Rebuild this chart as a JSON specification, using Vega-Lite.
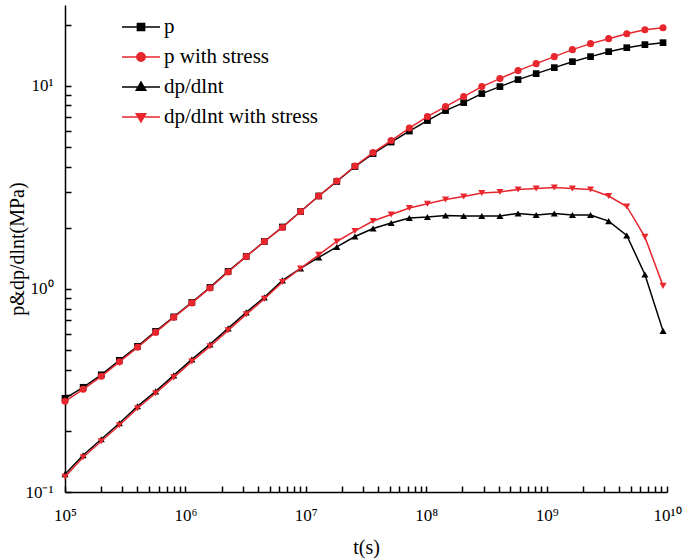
{
"$schema": "https://vega.github.io/schema/vega-lite/v6.json",
"width": 602, "height": 487,
"autosize": "none",
"padding": {"left": 65, "top": 5, "right": 18, "bottom": 68},
"config": {"view": {"stroke": null}, "font": "Liberation Serif",
  "legend": {"labelFont": "Liberation Serif", "labelFontSize": 21, "labelColor": "#000"},
  "axis": {"grid": false, "domainColor": "#000", "tickColor": "#000", "domainWidth": 1.5, "tickWidth": 1.5, "labelColor": "#000", "titleColor": "#000", "labelFont": "Liberation Serif", "titleFont": "Liberation Serif", "titleFontWeight": "normal", "labelFontSize": 17, "titleFontSize": 20}},
"data": {"values": [
{"t":100000,"v":0.2893,"s":"p"},{"t":141421,"v":0.3278,"s":"p"},{"t":200000,"v":0.3776,"s":"p"},{"t":282843,"v":0.4449,"s":"p"},{"t":400000,"v":0.5215,"s":"p"},{"t":565685,"v":0.6178,"s":"p"},{"t":800000,"v":0.7284,"s":"p"},{"t":1131371,"v":0.8582,"s":"p"},{"t":1600000,"v":1.017,"s":"p"},{"t":2262742,"v":1.219,"s":"p"},{"t":3200000,"v":1.445,"s":"p"},{"t":4525483,"v":1.712,"s":"p"},{"t":6400000,"v":2.018,"s":"p"},{"t":9050967,"v":2.406,"s":"p"},{"t":12800000,"v":2.868,"s":"p"},{"t":18101934,"v":3.38,"s":"p"},{"t":25600000,"v":4.005,"s":"p"},{"t":36203868,"v":4.64,"s":"p"},{"t":51200000,"v":5.286,"s":"p"},{"t":72407736,"v":5.986,"s":"p"},{"t":102400000,"v":6.743,"s":"p"},{"t":144815472,"v":7.551,"s":"p"},{"t":204800000,"v":8.27,"s":"p"},{"t":289630944,"v":9.156,"s":"p"},{"t":409600000,"v":9.91,"s":"p"},{"t":579261888,"v":10.73,"s":"p"},{"t":819200000,"v":11.48,"s":"p"},{"t":1158523776,"v":12.29,"s":"p"},{"t":1638400000,"v":13.15,"s":"p"},{"t":2317047552,"v":13.92,"s":"p"},{"t":3276800000,"v":14.73,"s":"p"},{"t":4634095104,"v":15.41,"s":"p"},{"t":6553600000,"v":15.95,"s":"p"},{"t":9268190208,"v":16.31,"s":"p"},
{"t":100000,"v":0.2797,"s":"p with stress"},{"t":141421,"v":0.3203,"s":"p with stress"},{"t":200000,"v":0.3712,"s":"p with stress"},{"t":282843,"v":0.4374,"s":"p with stress"},{"t":400000,"v":0.5156,"s":"p with stress"},{"t":565685,"v":0.6109,"s":"p with stress"},{"t":800000,"v":0.7243,"s":"p with stress"},{"t":1131371,"v":0.8534,"s":"p with stress"},{"t":1600000,"v":1.011,"s":"p with stress"},{"t":2262742,"v":1.212,"s":"p with stress"},{"t":3200000,"v":1.445,"s":"p with stress"},{"t":4525483,"v":1.712,"s":"p with stress"},{"t":6400000,"v":2.007,"s":"p with stress"},{"t":9050967,"v":2.406,"s":"p with stress"},{"t":12800000,"v":2.868,"s":"p with stress"},{"t":18101934,"v":3.399,"s":"p with stress"},{"t":25600000,"v":4.027,"s":"p with stress"},{"t":36203868,"v":4.692,"s":"p with stress"},{"t":51200000,"v":5.377,"s":"p with stress"},{"t":72407736,"v":6.195,"s":"p with stress"},{"t":102400000,"v":7.055,"s":"p with stress"},{"t":144815472,"v":7.902,"s":"p with stress"},{"t":204800000,"v":8.849,"s":"p with stress"},{"t":289630944,"v":9.91,"s":"p with stress"},{"t":409600000,"v":10.85,"s":"p with stress"},{"t":579261888,"v":11.88,"s":"p with stress"},{"t":819200000,"v":12.86,"s":"p with stress"},{"t":1158523776,"v":13.92,"s":"p with stress"},{"t":1638400000,"v":15.07,"s":"p with stress"},{"t":2317047552,"v":16.13,"s":"p with stress"},{"t":3276800000,"v":17.07,"s":"p with stress"},{"t":4634095104,"v":18.06,"s":"p with stress"},{"t":6553600000,"v":18.9,"s":"p with stress"},{"t":9268190208,"v":19.33,"s":"p with stress"},
{"t":100000,"v":0.1224,"s":"dp/dlnt"},{"t":141421,"v":0.1517,"s":"dp/dlnt"},{"t":200000,"v":0.1818,"s":"dp/dlnt"},{"t":282843,"v":0.2181,"s":"dp/dlnt"},{"t":400000,"v":0.2642,"s":"dp/dlnt"},{"t":565685,"v":0.3131,"s":"dp/dlnt"},{"t":800000,"v":0.3754,"s":"dp/dlnt"},{"t":1131371,"v":0.4499,"s":"dp/dlnt"},{"t":1600000,"v":0.5333,"s":"dp/dlnt"},{"t":2262742,"v":0.6393,"s":"dp/dlnt"},{"t":3200000,"v":0.7663,"s":"dp/dlnt"},{"t":4525483,"v":0.9082,"s":"dp/dlnt"},{"t":6400000,"v":1.101,"s":"dp/dlnt"},{"t":9050967,"v":1.261,"s":"dp/dlnt"},{"t":12800000,"v":1.429,"s":"dp/dlnt"},{"t":18101934,"v":1.609,"s":"dp/dlnt"},{"t":25600000,"v":1.812,"s":"dp/dlnt"},{"t":36203868,"v":1.984,"s":"dp/dlnt"},{"t":51200000,"v":2.112,"s":"dp/dlnt"},{"t":72407736,"v":2.235,"s":"dp/dlnt"},{"t":102400000,"v":2.261,"s":"dp/dlnt"},{"t":144815472,"v":2.299,"s":"dp/dlnt"},{"t":204800000,"v":2.286,"s":"dp/dlnt"},{"t":289630944,"v":2.286,"s":"dp/dlnt"},{"t":409600000,"v":2.286,"s":"dp/dlnt"},{"t":579261888,"v":2.352,"s":"dp/dlnt"},{"t":819200000,"v":2.312,"s":"dp/dlnt"},{"t":1158523776,"v":2.352,"s":"dp/dlnt"},{"t":1638400000,"v":2.312,"s":"dp/dlnt"},{"t":2317047552,"v":2.312,"s":"dp/dlnt"},{"t":3276800000,"v":2.156,"s":"dp/dlnt"},{"t":4634095104,"v":1.833,"s":"dp/dlnt"},{"t":6553600000,"v":1.178,"s":"dp/dlnt"},{"t":9268190208,"v":0.6215,"s":"dp/dlnt"},
{"t":100000,"v":0.1189,"s":"dp/dlnt with stress"},{"t":141421,"v":0.1483,"s":"dp/dlnt with stress"},{"t":200000,"v":0.1778,"s":"dp/dlnt with stress"},{"t":282843,"v":0.2132,"s":"dp/dlnt with stress"},{"t":400000,"v":0.2584,"s":"dp/dlnt with stress"},{"t":565685,"v":0.3062,"s":"dp/dlnt with stress"},{"t":800000,"v":0.367,"s":"dp/dlnt with stress"},{"t":1131371,"v":0.4398,"s":"dp/dlnt with stress"},{"t":1600000,"v":0.5215,"s":"dp/dlnt with stress"},{"t":2262742,"v":0.625,"s":"dp/dlnt with stress"},{"t":3200000,"v":0.7492,"s":"dp/dlnt with stress"},{"t":4525483,"v":0.8929,"s":"dp/dlnt with stress"},{"t":6400000,"v":1.082,"s":"dp/dlnt with stress"},{"t":9050967,"v":1.261,"s":"dp/dlnt with stress"},{"t":12800000,"v":1.47,"s":"dp/dlnt with stress"},{"t":18101934,"v":1.712,"s":"dp/dlnt with stress"},{"t":25600000,"v":1.929,"s":"dp/dlnt with stress"},{"t":36203868,"v":2.16,"s":"dp/dlnt with stress"},{"t":51200000,"v":2.325,"s":"dp/dlnt with stress"},{"t":72407736,"v":2.502,"s":"dp/dlnt with stress"},{"t":102400000,"v":2.625,"s":"dp/dlnt with stress"},{"t":144815472,"v":2.756,"s":"dp/dlnt with stress"},{"t":204800000,"v":2.851,"s":"dp/dlnt with stress"},{"t":289630944,"v":2.967,"s":"dp/dlnt with stress"},{"t":409600000,"v":3.001,"s":"dp/dlnt with stress"},{"t":579261888,"v":3.087,"s":"dp/dlnt with stress"},{"t":819200000,"v":3.122,"s":"dp/dlnt with stress"},{"t":1158523776,"v":3.157,"s":"dp/dlnt with stress"},{"t":1638400000,"v":3.122,"s":"dp/dlnt with stress"},{"t":2317047552,"v":3.087,"s":"dp/dlnt with stress"},{"t":3276800000,"v":2.868,"s":"dp/dlnt with stress"},{"t":4634095104,"v":2.546,"s":"dp/dlnt with stress"},{"t":6553600000,"v":1.803,"s":"dp/dlnt with stress"},{"t":9268190208,"v":1.035,"s":"dp/dlnt with stress"}
]},
"layer": [
  {"transform": [{"filter": "datum.s == 'p'"}],
   "mark": {"type": "line", "color": "#000000", "strokeWidth": 1.5, "point": {"filled": true, "shape": "square", "size": 45, "color": "#000000", "opacity": 1}},
   "encoding": {
     "x": {"field": "t", "type": "quantitative", "scale": {"type": "log", "domain": [100000, 10000000000], "nice": false},
       "axis": {"values": [100000,200000,300000,400000,500000,600000,700000,800000,900000,1000000,2000000,3000000,4000000,5000000,6000000,7000000,8000000,9000000,10000000,20000000,30000000,40000000,50000000,60000000,70000000,80000000,90000000,100000000,200000000,300000000,400000000,500000000,600000000,700000000,800000000,900000000,1000000000,2000000000,3000000000,4000000000,5000000000,6000000000,7000000000,8000000000,9000000000,10000000000],
         "tickSize": -6, "labelPadding": 21, "labelFlush": false, "labelOverlap": false, "title": "t(s)", "titlePadding": 14,
         "labelExpr": "datum.value == 100000 ? '10⁵' : datum.value == 1000000 ? '10⁶' : datum.value == 10000000 ? '10⁷' : datum.value == 100000000 ? '10⁸' : datum.value == 1000000000 ? '10⁹' : datum.value == 10000000000 ? '10¹⁰' : ''"}},
     "y": {"field": "v", "type": "quantitative", "scale": {"type": "log", "domain": [0.1, 25], "nice": false},
       "axis": {"values": [0.1,0.2,0.3,0.4,0.5,0.6,0.7,0.8,0.9,1,2,3,4,5,6,7,8,9,10,20],
         "tickSize": -6, "labelPadding": 18, "labelFlush": false, "labelOverlap": false, "title": "p&dp/dlnt(MPa)", "titlePadding": -3,
         "labelExpr": "abs(datum.value - 0.1) < 0.001 ? '10⁻¹' : abs(datum.value - 1) < 0.001 ? '10⁰' : abs(datum.value - 10) < 0.001 ? '10¹' : ''"}}
   }},
  {"transform": [{"filter": "datum.s == 'p with stress'"}],
   "mark": {"type": "line", "color": "#e8262e", "strokeWidth": 1.5, "point": {"filled": true, "shape": "circle", "size": 50, "color": "#e8262e", "opacity": 1}},
   "encoding": {"x": {"field": "t", "type": "quantitative", "axis": null}, "y": {"field": "v", "type": "quantitative", "axis": null}}},
  {"transform": [{"filter": "datum.s == 'dp/dlnt'"}],
   "mark": {"type": "line", "color": "#000000", "strokeWidth": 1.5, "point": {"filled": true, "shape": "triangle-up", "size": 50, "color": "#000000", "opacity": 1}},
   "encoding": {"x": {"field": "t", "type": "quantitative", "axis": null}, "y": {"field": "v", "type": "quantitative", "axis": null}}},
  {"transform": [{"filter": "datum.s == 'dp/dlnt with stress'"}],
   "mark": {"type": "line", "color": "#e8262e", "strokeWidth": 1.5, "point": {"filled": true, "shape": "triangle-down", "size": 50, "color": "#e8262e", "opacity": 1}},
   "encoding": {"x": {"field": "t", "type": "quantitative", "axis": null}, "y": {"field": "v", "type": "quantitative", "axis": null}}},
  {"mark": {"type": "point", "filled": true, "opacity": 0, "size": 1444},
   "encoding": {
     "x": {"field": "t", "type": "quantitative", "axis": null},
     "y": {"field": "v", "type": "quantitative", "axis": null},
     "fill": {"field": "s", "type": "nominal", "scale": {"domain": ["p", "p with stress", "dp/dlnt", "dp/dlnt with stress"], "range": ["#000000", "#e8262e", "#000000", "#e8262e"]},
       "legend": {"orient": "none", "legendX": 56, "legendY": 2, "title": null, "padding": 0, "symbolSize": 1444, "symbolStrokeWidth": 1.5, "symbolOpacity": 1, "labelFontSize": 21, "labelFont": "Liberation Serif", "labelColor": "#000", "labelOffset": 3, "rowPadding": 0}},
     "stroke": {"field": "s", "type": "nominal", "scale": {"domain": ["p", "p with stress", "dp/dlnt", "dp/dlnt with stress"], "range": ["#000000", "#e8262e", "#000000", "#e8262e"]},
       "legend": {"orient": "none", "legendX": 56, "legendY": 2, "title": null, "padding": 0, "symbolSize": 1444, "symbolStrokeWidth": 1.5, "symbolOpacity": 1, "labelFontSize": 21, "labelFont": "Liberation Serif", "labelColor": "#000", "labelOffset": 3, "rowPadding": 0}},
     "shape": {"field": "s", "type": "nominal", "scale": {"domain": ["p", "p with stress", "dp/dlnt", "dp/dlnt with stress"],
       "range": ["M-1,0H1M-0.19,-0.19H0.19V0.19H-0.19Z", "M-1,0H1M0.22,0A0.22,0.22 0 1,1 -0.22,0A0.22,0.22 0 1,1 0.22,0Z", "M-1,0H1M0,-0.26L0.25,0.17H-0.25Z", "M-1,0H1M0,0.26L0.25,-0.17H-0.25Z"]},
       "legend": {"orient": "none", "legendX": 56, "legendY": 2, "title": null, "padding": 0, "symbolSize": 1444, "symbolStrokeWidth": 1.5, "symbolOpacity": 1, "labelFontSize": 21, "labelFont": "Liberation Serif", "labelColor": "#000", "labelOffset": 3, "rowPadding": 0}}
   }}
],
"resolve": {"axis": {"x": "independent", "y": "independent"}}
}
